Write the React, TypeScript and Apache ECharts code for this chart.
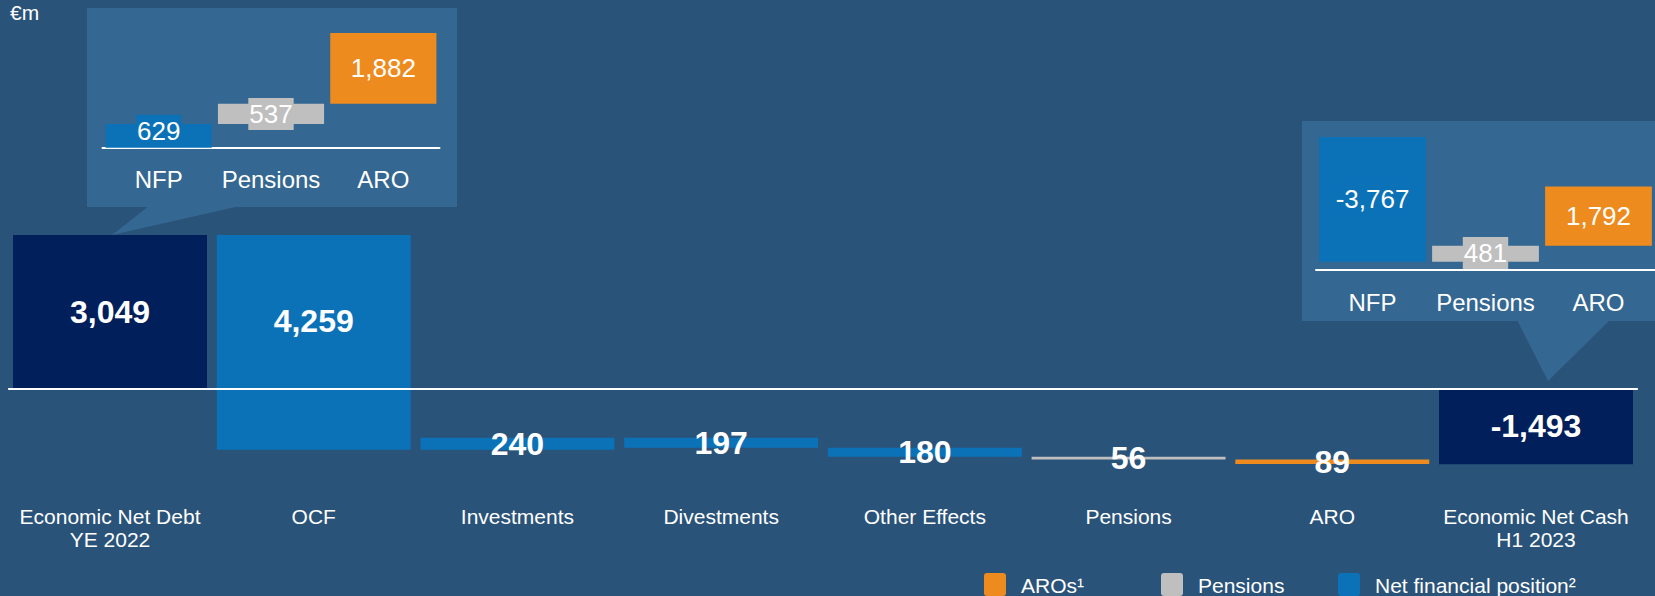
import React, { useEffect, useRef } from 'react';
import * as echarts from 'echarts';

// ---------- data ----------
const categories = [
  'Economic Net Debt\nYE 2022',
  'OCF',
  'Investments',
  'Divestments',
  'Other Effects',
  'Pensions',
  'ARO',
  'Economic Net Cash\nH1 2023',
];
const steps = [3049, -4259, 240, -197, -180, -56, -89, -1493];
const stepKinds = ['total', 'nfp', 'nfp', 'nfp', 'nfp', 'pensions', 'aro', 'total'];
const stepLabels = ['3,049', '4,259', '240', '197', '180', '56', '89', '-1,493'];

const miniCategories = ['NFP', 'Pensions', 'ARO'];
const miniKinds = ['nfp', 'pensions', 'aro'];
const startMix = [629, 537, 1882];
const startMixLabels = ['629', '537', '1,882'];
const endMix = [-3767, 481, 1792];
const endMixLabels = ['-3,767', '481', '1,792'];

const legendItems = ['AROs¹', 'Pensions', 'Net financial position²'];
const legendKinds = ['aro', 'pensions', 'nfp'];
const unitLabel = '€m';

// ---------- styling ----------
const FONT = '"Liberation Sans", Arial, Helvetica, sans-serif';
const BG = '#2A537A';
const CALLOUT = '#346791';
const COLORS: Record<string, string> = {
  total: '#001F5B',
  nfp: '#0B72B8',
  pensions: '#BFBFBF',
  aro: '#EE8B1E',
};

function buildWaterfall(vals: number[], kinds: string[]) {
  let run = 0;
  return vals.map((v, i) => {
    let lo: number, hi: number;
    if (kinds[i] === 'total') {
      lo = Math.min(0, v);
      hi = Math.max(0, v);
      run = v;
    } else {
      const next = run + v;
      lo = Math.min(run, next);
      hi = Math.max(run, next);
      run = next;
    }
    return [i, lo, hi];
  });
}

function buildMix(vals: number[]) {
  let acc = 0;
  return vals.map((v, i) => {
    if (v < 0) return [i, 0, -v];
    const r = [i, acc, acc + v];
    acc += v;
    return r;
  });
}

const mainData = buildWaterfall(steps, stepKinds);
const startData = buildMix(startMix);
const endData = buildMix(endMix);

export default function App() {
  const ref = useRef<HTMLDivElement>(null);

  useEffect(() => {
    document.body.style.margin = '0';
    document.body.style.background = BG;
    if (!ref.current) return;
    const chart = echarts.init(ref.current, undefined, { renderer: 'svg' });

    const mainRender = (params: any, api: any) => {
      const i = api.value(0);
      const lo = api.value(1);
      const hi = api.value(2);
      const top = api.coord([i, hi]);
      const bot = api.coord([i, lo]);
      const w = api.size([1, 0])[0] * 0.952;
      const cx = top[0];
      const cy = (top[1] + bot[1]) / 2 + (i === 1 ? -21 : 0);
      return {
        type: 'group',
        children: [
          {
            type: 'rect',
            shape: { x: cx - w / 2, y: top[1], width: w, height: Math.max(bot[1] - top[1], 1) },
            style: { fill: COLORS[stepKinds[i]] },
          },
          {
            type: 'text',
            x: cx,
            y: cy,
            z2: 10,
            style: {
              text: stepLabels[i],
              fill: '#FFFFFF',
              font: `bold 32px ${FONT}`,
              align: 'center',
              verticalAlign: 'middle',
            },
          },
        ],
      };
    };

    const mixRender = (labels: string[]) => (params: any, api: any) => {
      const i = api.value(0);
      const lo = api.value(1);
      const hi = api.value(2);
      const top = api.coord([i, hi]);
      const bot = api.coord([i, lo]);
      const w = api.size([1, 0])[0] * 0.945;
      const cx = top[0];
      const baseline = params.coordSys.y + params.coordSys.height;
      const cy = Math.min((top[1] + bot[1]) / 2, baseline - 17);
      const color = COLORS[miniKinds[i]];
      return {
        type: 'group',
        children: [
          {
            type: 'rect',
            shape: { x: cx - w / 2, y: top[1], width: w, height: Math.max(bot[1] - top[1], 1) },
            style: { fill: color },
          },
          {
            type: 'text',
            x: cx,
            y: cy,
            z2: 10,
            style: {
              text: labels[i],
              fill: '#FFFFFF',
              font: `26px ${FONT}`,
              align: 'center',
              verticalAlign: 'middle',
              backgroundColor: color,
              padding: [3, 1],
              lineHeight: 26,
            },
          },
        ],
      };
    };

    const miniXAxis = (gridIndex: number) => ({
      type: 'category',
      gridIndex,
      data: miniCategories,
      axisLine: { show: true, onZero: false, lineStyle: { color: '#FFFFFF', width: 2 } },
      axisTick: { show: false },
      axisLabel: {
        color: '#FFFFFF',
        fontSize: 24,
        fontFamily: FONT,
        margin: 20,
        lineHeight: 24,
        interval: 0,
        hideOverlap: false,
      },
    });

    const legendX = [984, 1161, 1338];
    const legendGraphics: any[] = [];
    legendItems.forEach((name, k) => {
      legendGraphics.push({
        type: 'rect',
        x: legendX[k],
        y: 573,
        shape: { width: 22, height: 23, r: 3 },
        style: { fill: COLORS[legendKinds[k]] },
      });
      legendGraphics.push({
        type: 'text',
        x: legendX[k] + 37,
        y: 585,
        style: {
          text: name,
          fill: '#FFFFFF',
          font: `21px ${FONT}`,
          align: 'left',
          verticalAlign: 'middle',
        },
      });
    });

    chart.setOption({
      animation: false,
      backgroundColor: BG,
      textStyle: { fontFamily: FONT },
      grid: [
        { left: 8.15, right: 17.15, top: 187.1, bottom: 106.3 },
        { left: 102.5, width: 337, top: 27.4, bottom: 448.3 },
        { left: 1316, width: 339, top: 129.2, bottom: 326 },
      ],
      xAxis: [
        {
          type: 'category',
          gridIndex: 0,
          data: categories,
          axisLine: { show: false },
          axisTick: { show: false },
          axisLabel: {
            color: '#FFFFFF',
            fontSize: 21,
            fontFamily: FONT,
            lineHeight: 23,
            margin: 15,
            interval: 0,
          },
        },
        miniXAxis(1),
        miniXAxis(2),
      ],
      yAxis: [
        { type: 'value', gridIndex: 0, min: -2000, max: 4000, show: false },
        { type: 'value', gridIndex: 1, min: 0, max: 3200, show: false },
        { type: 'value', gridIndex: 2, min: -250, max: 4000, show: false },
      ],
      graphic: [
        {
          type: 'rect',
          z: -1,
          x: 87,
          y: 8,
          shape: { width: 370, height: 199 },
          style: { fill: CALLOUT },
        },
        {
          type: 'polygon',
          z: -1,
          shape: { points: [[149, 206], [240, 206], [112, 235]] },
          style: { fill: CALLOUT },
        },
        {
          type: 'rect',
          z: -1,
          x: 1302,
          y: 121,
          shape: { width: 353, height: 200 },
          style: { fill: CALLOUT },
        },
        {
          type: 'polygon',
          z: -1,
          shape: { points: [[1517, 320], [1610, 320], [1548, 381]] },
          style: { fill: CALLOUT },
        },
        {
          type: 'text',
          x: 10,
          y: 2,
          style: {
            text: unitLabel,
            fill: '#FFFFFF',
            font: `21px ${FONT}`,
            align: 'left',
            verticalAlign: 'top',
          },
        },
        ...legendGraphics,
      ],
      series: [
        {
          type: 'custom',
          name: 'waterfall',
          xAxisIndex: 0,
          yAxisIndex: 0,
          data: mainData,
          encode: { x: 0, y: [1, 2] },
          renderItem: mainRender,
          markLine: {
            silent: true,
            symbol: 'none',
            label: { show: false },
            lineStyle: { color: '#FFFFFF', width: 2, type: 'solid' },
            data: [{ yAxis: 0 }],
          },
        },
        {
          type: 'custom',
          name: 'start',
          xAxisIndex: 1,
          yAxisIndex: 1,
          data: startData,
          encode: { x: 0, y: [1, 2] },
          renderItem: mixRender(startMixLabels),
        },
        {
          type: 'custom',
          name: 'end',
          xAxisIndex: 2,
          yAxisIndex: 2,
          data: endData,
          encode: { x: 0, y: [1, 2] },
          renderItem: mixRender(endMixLabels),
        },
      ],
    });

    return () => chart.dispose();
  }, []);

  return <div ref={ref} style={{ width: 1655, height: 596 }} />;
}
